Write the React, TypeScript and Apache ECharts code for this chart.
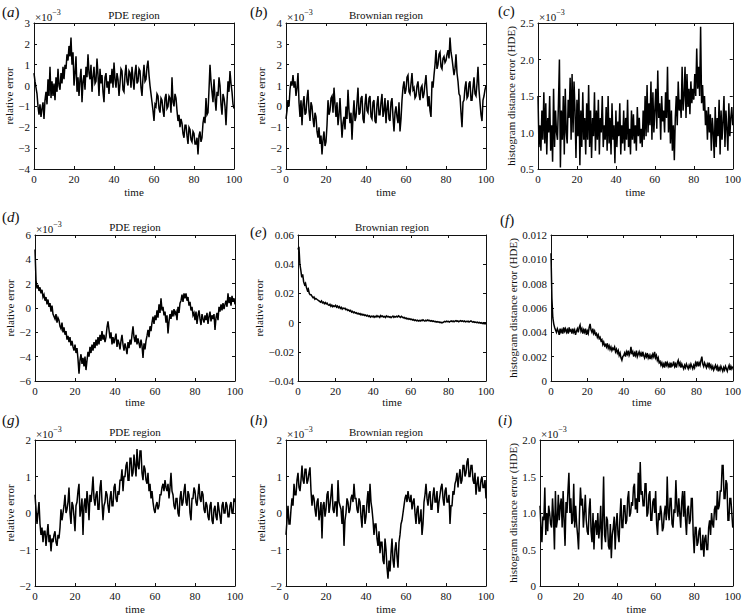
import React, { useEffect, useRef } from "react";
import * as echarts from "echarts";

const TIME_MIN = 0;
const TIME_MAX = 100;
const TIME_TICKS = 20;

// (a) PDE region, relative error, x1e-3
const relErrPdeA = [
  0.6, 0.2, -0.1, -0.4, -1.0, -1.4, -0.9, -1.5, -1.1, -0.8,
  -1.6, -0.7, -0.3, -0.9, 0.3, -0.5, 0.9, -0.6, 0.2, -0.5,
  0.1, -0.7, 0.4, -0.3, 0.8, 0.0, -0.2, 0.6, 0.1, 0.9,
  0.3, 1.0, 0.8, 1.5, 1.2, 1.9, 1.4, 2.3, 1.0, 1.6,
  0.0, 0.6, 1.4, -0.3, 0.4, -0.5, 0.3, 0.8, -0.8, 0.2,
  0.5, -0.2, 0.9, 0.4, 1.5, 0.6, 0.3, 1.0, -0.3, 0.4,
  0.9, 0.1, 0.2, 1.3, 0.5, -0.5, 0.8, 0.1, 0.5, -0.3,
  -0.8, 0.4, 0.6, -0.1, 0.2, -0.4, 0.5, 0.1, 0.8, -0.1,
  1.1, 0.3, -0.1, 0.6, 0.3, -0.5, 0.1, 0.8, 0.7, -0.2,
  -0.3, 0.5, 1.0, 0.2, 0.0, 0.7, 0.6, -0.1, 0.9, 0.3,
  -0.2, 0.6, 1.0, 0.1, 0.2, 0.8, 0.7, -0.1, -0.5, 0.4,
  1.0, 0.2, 0.3, 0.9, 1.2, 0.5, 0.0, -0.4, -0.8, -1.2,
  -1.7, -0.9, -1.0, -0.4, -0.5, -1.1, -1.3, -0.6, -0.7, -1.2,
  -1.5, -0.6, -0.4, -1.1, -1.0, -0.5, -0.6, -1.3, 0.4, -0.8,
  -1.0, -0.4, -0.6, -1.2, -1.7, -1.4, -2.0, -1.6, -1.8, -2.3,
  -2.5, -1.9, -1.9, -2.4, -2.8, -2.0, -2.1, -2.6, -2.7, -2.2,
  -2.3, -2.8, -2.8, -2.5, -3.3, -2.4, -2.2, -2.7, -2.5, -1.8,
  -1.5, -1.8, -0.6, -1.4, -1.3, -0.2, 1.0, 0.2, -0.3, -0.8,
  0.3, -0.6, -1.2, -0.3, -0.5, 0.4, 0.0, -0.9, -1.4, -0.4,
  -0.6, -1.0, -1.9, -0.8, 0.2, -0.3, 0.7, 0.1, -0.3, -0.9,
  -1.1,
];

// (b) Brownian region, relative error, x1e-3
const relErrBrownB = [
  -0.6, -0.2, 0.3, 0.0, 0.8, 1.2, 1.0, 1.5, 0.9, 1.2,
  0.5, 0.9, 1.6, 0.2, -0.5, 0.3, -0.9, 0.1, 0.5, -0.4,
  -0.3, 0.4, 0.8, -0.2, -0.7, 0.2, 0.0, -0.6, -1.0, -0.3,
  -0.5, -1.2, -1.5, -1.0, -1.8, -1.4, -2.3, -1.6, -1.2, -1.9,
  -1.7, -0.9, 0.3, -0.4, -0.2, 0.4, 0.5, -0.3, 0.9, 0.1,
  -0.5, 0.2, -0.9, -0.4, 0.4, -0.6, -1.5, -0.8, -0.5, -1.1,
  0.0, -0.6, 0.8, -0.2, -0.8, -0.3, -1.6, -0.5, 0.3, -0.7,
  -0.5, 0.2, 0.9, -0.4, -0.3, 0.4, 0.5, -0.6, -0.8, 0.1,
  0.6, -0.2, -0.3, 0.4, 0.5, -0.5, -0.6, 0.2, 0.3, -0.7,
  -0.8, 0.1, 0.5, -0.4, -0.4, 0.2, 0.6, -0.5, -0.2, 0.4,
  -0.8, -0.1, 0.3, -0.6, -0.7, 0.2, 0.4, -0.5, -1.2, -0.3,
  0.0, -0.5, -0.8, 0.2, -1.2, -0.6, 0.3, 0.9, 1.2, 0.6,
  0.8, 1.4, 1.5, 0.7, 0.6, 1.1, 1.6, 0.8, 0.9, 0.4,
  0.5, 1.0, 1.2, 0.6, 0.3, 0.9, 1.0, 0.4, 0.6, 1.1,
  1.5, 0.7, 0.0, 0.5, -0.2, -0.5, 1.2, 0.9, 1.5, 2.0,
  2.7, 1.8, 2.0, 2.5, 2.6, 1.9, 1.8, 2.3, 2.4, 2.1,
  2.2, 2.5, 2.7, 2.3, 3.3, 2.6, 2.3, 1.9, 1.5, 1.8,
  2.5, 1.6, 1.2, 0.6, 0.5, -0.3, -1.0, 0.2, 0.3, 0.9,
  1.2, 0.4, 0.5, 1.1, 1.2, 0.3, 0.3, 0.9, 1.4, 0.6,
  0.5, 1.1, 1.9, 0.8, 0.2, -0.4, -0.7, 0.3, 0.5, 0.8,
  1.0,
];

// (c) histogram distance error, x1e-3
const hdeC = [
  1.5, 0.8, 1.1, 0.75, 1.3, 0.9, 1.55, 0.85, 1.4, 0.7,
  1.2, 1.0, 1.5, 0.75, 1.1, 0.6, 1.6, 0.8, 1.3, 1.0,
  0.9, 1.4, 2.0, 0.52, 1.3, 0.9, 1.5, 0.7, 1.6, 1.0,
  0.85, 1.45, 1.2, 1.75, 0.9, 1.8, 1.0, 1.7, 1.3, 0.65,
  1.45, 0.95, 1.6, 0.55, 1.3, 0.8, 1.55, 0.9, 1.2, 0.7,
  1.4, 0.9, 1.65, 0.8, 1.3, 0.65, 1.2, 0.95, 1.55, 0.75,
  1.3, 0.9, 1.45, 0.7, 1.2, 1.0, 1.5, 0.8, 1.1, 0.9,
  1.35, 0.75, 1.5, 0.85, 1.2, 0.7, 1.4, 0.9, 1.1, 0.58,
  1.3, 0.8, 1.15, 0.95, 1.4, 0.7, 1.1, 0.85, 1.3, 0.75,
  1.2, 0.9, 1.45, 0.8, 1.05, 0.7, 1.3, 0.9, 1.25, 0.85,
  1.1, 0.75, 1.35, 0.95, 1.2, 0.85, 1.05, 0.8, 1.3, 0.9,
  1.5, 0.95, 1.65, 1.0, 1.4, 1.1, 1.7, 0.9, 1.55, 1.0,
  1.3, 1.6, 1.05, 1.85, 1.2, 1.4, 0.9, 1.5, 1.15, 1.3,
  1.0, 1.55, 1.2, 1.9, 1.0, 1.45, 0.85, 1.3, 0.75, 1.1,
  0.62, 1.2, 1.5, 1.1, 1.7, 1.3, 1.45, 1.2, 1.9, 1.3,
  1.5, 1.9, 1.2, 1.8, 1.35, 1.6, 1.25, 1.7, 1.4, 1.6,
  1.45, 1.8, 1.5, 2.15, 1.6, 1.9, 1.5, 2.45, 1.4, 1.65,
  1.3, 1.5, 1.1, 1.3, 0.9, 1.35, 1.0, 1.25, 0.75, 1.2,
  1.0, 0.65, 1.35, 0.8, 1.2, 0.95, 1.45, 0.7, 1.3, 0.9,
  1.15, 1.5, 0.8, 1.3, 1.05, 0.75, 1.4, 0.95, 1.2, 1.35,
  1.1,
];

// (d) PDE region, relative error, x1e-3
const relErrPdeD = [
  4.8, 2.3, 1.6, 1.9, 1.4, 1.7, 1.2, 1.5, 0.9, 1.1,
  0.6, 0.9, 0.3, 0.7, 0.1, 0.4, -0.3, 0.2, -0.5, -0.7,
  -0.9, -0.5, -1.2, -0.8, -1.0, -1.5, -1.7, -1.2, -2.0, -1.6,
  -2.2, -1.9, -2.6, -2.3, -2.8, -2.4, -3.1, -2.7, -3.2, -3.5,
  -3.0, -3.7, -3.3, -4.2, -5.4, -4.3, -3.8, -4.6, -4.1, -4.8,
  -4.0, -5.1, -4.3, -3.6, -4.0, -3.2, -3.7, -3.0, -3.5, -2.8,
  -3.3, -2.6, -3.1, -2.4, -3.0, -2.2, -2.7, -1.9, -2.6, -2.2,
  -2.8, -2.4, -1.6, -1.1, -1.8, -2.5, -2.0, -3.0, -2.4, -2.9,
  -2.5, -2.1, -3.2, -2.6, -2.9, -3.4, -2.7, -2.2, -3.0, -3.5,
  -2.9, -3.3, -3.8, -2.8, -3.3, -2.6, -3.0, -2.2, -1.5, -2.4,
  -2.8, -2.2, -3.0, -2.5, -2.9, -3.3, -2.6, -3.1, -4.1, -2.9,
  -3.4, -2.7, -2.3, -1.8, -2.4, -1.5, -1.9, -1.2, -0.7, -1.3,
  -0.6, -1.0, -0.2, -0.8, 0.3, -0.4, 0.8, -0.2, 0.1, -0.6,
  -0.3, -1.2, -0.6, -2.1, -1.1, -0.5, -0.9, -0.2, -0.7, -0.1,
  -0.5, -0.3, -1.0, 0.1, -0.4, 0.4, 0.6, 1.1, 0.5, 1.2,
  0.8, 1.2, 0.6, 0.9, 0.2, 0.5, -0.2, 0.1, -0.6, -0.4,
  -1.0, -0.3, -1.3, -0.6, -0.2, -0.9, -1.4, -0.5, -0.9, -1.2,
  -0.6, -1.0, -0.4, -1.3, -0.7, -0.3, -1.1, -0.6, -0.9, -0.5,
  -1.8, -0.8, -0.4, -1.0, 0.1, -0.3, 0.3, -0.2, 0.4, -0.1,
  0.3, 0.6, 0.1, 1.2, 0.4, 0.9, 0.2, 1.0, 0.5, 0.8,
  0.3,
];

// (e) Brownian region, relative error
const relErrBrownE = [
  0.050, 0.052, 0.040, 0.036, 0.031, 0.033, 0.028, 0.026, 0.027, 0.024,
  0.022, 0.023, 0.020, 0.019, 0.019, 0.018, 0.017, 0.0175, 0.016, 0.0165,
  0.016, 0.0155, 0.015, 0.0145, 0.014, 0.0148, 0.0135, 0.014, 0.013, 0.0138,
  0.0128, 0.0133, 0.0122, 0.0118, 0.0125, 0.0112, 0.012, 0.0108, 0.0115, 0.011,
  0.0118, 0.0106, 0.0113, 0.0102, 0.011, 0.0097, 0.0105, 0.0092, 0.010, 0.0095,
  0.0098, 0.0088, 0.0092, 0.0083, 0.0087, 0.0078, 0.0083, 0.0072, 0.0077, 0.0068,
  0.0072, 0.0065, 0.0068, 0.006, 0.0064, 0.0057, 0.0062, 0.0053, 0.0058, 0.0051,
  0.0055, 0.0048, 0.0052, 0.0045, 0.005, 0.0042, 0.0047, 0.0038, 0.0044, 0.004,
  0.0045, 0.0036, 0.0043, 0.0039, 0.0047, 0.004, 0.0044, 0.0036, 0.0048, 0.0041,
  0.0045, 0.0038, 0.0042, 0.0035, 0.0046, 0.004, 0.0043, 0.0037, 0.0041, 0.0034,
  0.004, 0.0045, 0.0036, 0.0042, 0.0038, 0.0044, 0.0039, 0.0046, 0.0041, 0.0035,
  0.0043, 0.0038, 0.0033, 0.0036, 0.0028, 0.0032, 0.0025, 0.0029, 0.0022, 0.0026,
  0.002, 0.0024, 0.0017, 0.0021, 0.0014, 0.0018, 0.0012, 0.0016, 0.001, 0.0015,
  0.0011, 0.0017, 0.0013, 0.0019, 0.0014, 0.001, 0.0016, 0.0012, 0.0018, 0.0013,
  0.0015, 0.001, 0.0013, 0.0008, 0.0011, 0.0006, 0.0009, 0.0004, 0.0007, 0.0003,
  0.0005, 0.0, 0.0003, -0.0002, 0.0001, 0.0004, 0.0008, 0.0005, 0.001, 0.0006,
  0.0009, 0.0004, 0.0008, 0.0012, 0.0007, 0.0011, 0.0006, 0.001, 0.0013, 0.0008,
  0.0011, 0.0006, 0.001, 0.0014, 0.0009, 0.0012, 0.0007, 0.0011, 0.0005, 0.0009,
  0.0006, 0.001, 0.0004, 0.0008, 0.0012, 0.0007, 0.0003, 0.0006, 0.0001, 0.0004,
  0.0, 0.0003, -0.0002, 0.0001, -0.0004, -0.0001, -0.0006, -0.0002, -0.0008, -0.0005,
  -0.001,
];

// (f) histogram distance error
const hdeF = [
  0.0105, 0.0068, 0.0052, 0.0047, 0.0044, 0.0042, 0.0040, 0.0043, 0.0041, 0.0038,
  0.0043, 0.0040, 0.0042, 0.0039, 0.0044, 0.0041, 0.0043, 0.0040, 0.0042, 0.0039,
  0.0044, 0.0041, 0.0042, 0.0039, 0.0043, 0.0040, 0.0042, 0.0038, 0.0041, 0.0043,
  0.0040, 0.0044, 0.0046, 0.0041, 0.0043, 0.0039, 0.0042, 0.0040, 0.0043, 0.0038,
  0.0041, 0.0039, 0.0044, 0.0047, 0.0042, 0.0040, 0.0043, 0.0039, 0.0041, 0.0038,
  0.0039, 0.0036, 0.0038, 0.0035, 0.0036, 0.0033, 0.0034, 0.0030, 0.0032, 0.0029,
  0.0030, 0.0028, 0.0031, 0.0027, 0.0029, 0.0026, 0.0028, 0.0025, 0.0027, 0.0026,
  0.0028, 0.0024, 0.0026, 0.0023, 0.0025, 0.0021, 0.0023, 0.0019, 0.0017, 0.0020,
  0.0021, 0.0023, 0.0020, 0.0024, 0.0022, 0.0025, 0.0021, 0.0023, 0.0028, 0.0022,
  0.0024, 0.0020, 0.0023, 0.0021, 0.0025, 0.0020, 0.0022, 0.0024, 0.0021, 0.0023,
  0.0020, 0.0024, 0.0021, 0.0019, 0.0022, 0.0020, 0.0023, 0.0019, 0.0021, 0.0018,
  0.0021, 0.0019, 0.0022, 0.0020, 0.0024, 0.0019, 0.0021, 0.0017, 0.0019, 0.0015,
  0.0016, 0.0013, 0.0015, 0.0012, 0.0014, 0.0011, 0.0016, 0.0013, 0.0015, 0.0012,
  0.0014, 0.0011, 0.0015, 0.0012, 0.0013, 0.0016, 0.0012, 0.0014, 0.0011, 0.0015,
  0.0017, 0.0013, 0.0015, 0.0011, 0.0014, 0.0012, 0.0010, 0.0013, 0.0011, 0.0014,
  0.0012, 0.0010, 0.0013, 0.0011, 0.0014, 0.0012, 0.0010, 0.0013, 0.0011, 0.0015,
  0.0013, 0.0016, 0.0012, 0.0015, 0.0013, 0.0017, 0.0020, 0.0014, 0.0012, 0.0015,
  0.0013, 0.0011, 0.0014, 0.0012, 0.0015, 0.0011, 0.0013, 0.0010, 0.0012, 0.0009,
  0.0011, 0.0013, 0.0010, 0.0012, 0.0008, 0.0011, 0.0009, 0.0012, 0.0010, 0.0008,
  0.0011, 0.0009, 0.0012, 0.0010, 0.0008, 0.0011, 0.0013, 0.0009, 0.0012, 0.0010,
  0.0012,
];

// (g) PDE region, relative error, x1e-3
const relErrPdeG = [
  0.5, 0.1, -0.3, 0.0, 0.3, -0.3, -0.6, -0.4, -0.8, -0.5,
  -0.5, -0.9, -0.6, -0.3, -0.8, -0.6, -1.05, -0.7, -0.8, -0.6,
  -0.5, -0.8, -0.9, -0.6, -0.7, -0.4, 0.1, -0.2, 0.0, 0.2,
  0.5, 0.0, 0.1, 0.3, 0.7, 0.0, -0.3, 0.3, 0.2, -0.1,
  -0.5, 0.2, 0.3, 0.6, 0.8, -0.1, 0.1, 0.4, -0.6, 0.2,
  0.4, 0.0, 0.6, 0.3, -0.2, 0.5, 0.3, 0.6, 1.0, 0.4,
  0.2, 0.5, 0.6, 0.1, 0.1, 0.7, 0.9, 0.3, -0.2, 0.2,
  0.3, 0.6, 0.5, 0.2, 0.0, 0.4, 0.6, 0.2, 0.2, 0.7,
  0.8, 0.4, 0.3, 0.6, 0.5, 0.9, 0.9, 1.2, 0.6, 1.0,
  1.0, 1.3, 1.4, 0.9, 0.9, 1.5, 1.5, 1.0, 1.1, 1.6,
  1.3, 1.0, 1.75, 1.3, 1.2, 1.7, 1.7, 1.1, 0.9, 1.3,
  1.2, 0.9, 0.8, 1.1, 0.6, 0.8, 0.4, 0.6, 0.3, 0.1,
  0.0, 0.2, 0.3, 0.1, 0.2, 0.5, 0.5, 0.7, 0.8, 0.6,
  0.9, 0.7, 0.6, 0.8, 0.4, 0.7, 1.1, 0.6, 0.5, 0.2,
  0.1, 0.4, 0.4, 0.0, -0.1, 0.4, 0.6, 0.2, 0.3, 0.6,
  0.8, 0.3, 0.2, 0.6, 0.5, 0.0, -0.2, 0.4, 0.4, 0.7,
  0.6, 0.3, 0.2, 0.5, 0.8, 0.4, 0.3, 0.6, 0.5, 0.1,
  0.0, 0.3, 0.2, -0.1, -0.2, 0.2, 0.3, -0.2, -0.3, 0.1,
  0.2, -0.1, -0.2, 0.3, 0.1, -0.1, -0.3, 0.2, 0.3, 0.0,
  0.0, 0.3, 0.2, -0.1, -0.1, 0.2, 0.3, 0.0, 0.0, 0.4,
  0.3,
];

// (h) Brownian region, relative error, x1e-3
const relErrBrownH = [
  -0.6, -0.2, 0.2, -0.3, -0.3, 0.1, 0.4, 0.2, 0.8, 0.5,
  0.5, 0.9, 1.1, 0.7, 0.6, 0.9, 1.3, 0.9, 0.8, 1.2,
  1.2, 0.8, 0.9, 1.1, 1.25, 0.6, 0.2, 0.5, 0.4, 0.1,
  -0.1, 0.3, 0.4, -0.2, 0.0, 0.3, -0.7, 0.2, 0.3, -0.1,
  0.1, 0.5, 0.6, 0.0, 0.2, 0.5, 0.8, 0.1, 0.0, 0.3,
  0.3, -0.1, 0.9, 0.3, 0.2, 0.1, -0.3, 0.2, -0.9, -0.2,
  0.0, 0.4, 0.3, 0.0, 0.1, 0.4, 0.5, 0.3, 0.8, 0.4,
  0.4, 0.1, 0.0, 0.4, 0.3, -0.1, -0.4, 0.2, 0.2, -0.3,
  -0.1, 0.3, 0.6, 0.0, 0.8, 0.3, 0.1, -0.2, -0.6, -0.3,
  -0.3, -0.7, -0.9, -0.5, -1.1, -0.8, -0.8, -1.3, -1.4, -0.7,
  -1.0, -1.5, -1.8, -1.3, -1.6, -1.1, -0.7, -1.3, -1.5, -1.0,
  -0.8, -1.2, -1.5, -0.8, -0.6, -0.3, -0.2, 0.0, 0.2, 0.4,
  0.5, 0.3, 0.6, 0.4, 0.3, 0.5, 0.1, 0.3, 0.4, 0.0,
  -0.3, 0.1, 0.2, -0.3, -0.2, 0.1, -0.6, -0.3, 0.3, 0.5,
  0.8, 0.4, 0.2, 0.5, 0.6, 0.1, 0.1, 0.5, 0.7, 0.3,
  0.3, 0.6, 0.0, 0.3, 0.5, 0.7, 0.8, 0.4, 0.2, 0.6,
  0.7, 0.3, 0.3, 0.5, -0.3, 0.2, 0.2, 0.6, 0.5, 0.8,
  0.9, 1.1, 0.7, 1.0, 1.2, 0.8, 0.9, 1.3, 1.3, 1.0,
  1.1, 1.4, 1.5, 1.0, 1.0, 1.3, 1.3, 0.9, 0.8, 1.1,
  0.5, 0.8, 1.0, 0.6, 0.6, 0.9, 1.0, 0.7, 0.7, 0.9,
  0.4,
];

// (i) histogram distance error, x1e-3
const hdeI = [
  1.1, 0.8, 0.6, 0.95, 0.9, 1.35, 0.7, 1.0, 0.75, 1.1,
  1.0, 0.85, 0.8, 1.2, 0.95, 0.5, 1.3, 0.8, 0.9, 1.25,
  0.9, 1.1, 1.2, 0.8, 1.3, 0.9, 0.55, 1.15, 1.0, 1.3,
  1.55, 1.0, 1.2, 0.85, 0.9, 1.4, 0.8, 1.1, 0.85, 0.7,
  0.5, 1.0, 1.35, 1.1, 1.2, 0.8, 1.0, 1.25, 0.9, 0.75,
  0.7, 1.05, 1.2, 0.75, 0.6, 1.0, 0.5, 0.85, 0.9, 0.7,
  1.0, 0.65, 0.8, 1.1, 0.5, 0.9, 1.5, 0.7, 0.6, 0.95,
  0.9, 0.55, 0.5, 0.85, 0.38, 0.7, 0.8, 0.95, 0.5, 0.85,
  1.0, 0.7, 0.6, 0.95, 1.2, 0.8, 0.8, 1.1, 1.1, 0.85,
  0.9, 1.2, 1.3, 0.95, 1.0, 1.15, 1.1, 1.35, 1.4, 1.05,
  1.2, 1.0, 1.55, 1.15, 1.7, 1.25, 1.3, 1.1, 1.1, 1.4,
  1.4, 0.95, 1.0, 1.25, 1.3, 0.9, 0.9, 1.15, 1.2, 1.0,
  1.3, 0.85, 0.7, 1.0, 0.9, 1.1, 1.0, 0.75, 0.8, 1.0,
  1.1, 0.9, 1.5, 1.0, 0.9, 1.2, 1.2, 0.85, 0.8, 1.05,
  1.0, 1.45, 1.1, 0.95, 1.2, 1.0, 0.8, 1.15, 1.3, 0.95,
  1.3, 0.9, 0.7, 1.05, 1.1, 0.85, 0.9, 1.2, 1.2, 0.7,
  0.45, 0.8, 0.8, 0.55, 0.6, 0.75, 0.8, 0.5, 0.5, 0.7,
  0.4, 0.65, 0.7, 0.5, 0.5, 0.8, 0.9, 0.7, 1.0, 0.85,
  0.8, 1.05, 1.1, 0.9, 1.3, 1.05, 1.1, 1.3, 1.3, 1.65,
  1.65, 1.2, 1.2, 1.45, 1.4, 0.9, 0.9, 1.2, 1.2, 1.0,
  0.8,
];

// ---- panel layout / styling ----
const FONT = '"Liberation Serif", "Times New Roman", Times, serif';
const INK = "#111";

type Panel = {
  letter: string;
  values: number[];
  title: string;
  yName: string;
  yMin: number;
  yMax: number;
  yStep: number;
  decimals: number;
  scaled: boolean;
  rect: [number, number, number, number];
  yGap: number;
  xGap: number;
  letterAt: [number, number];
};

const PDE = "PDE region";
const BROWN = "Brownian region";
const REL = "relative error";
const HDE = "histogram distance error (HDE)";

const PANELS: Panel[] = [
  { letter: "a", values: relErrPdeA, title: PDE, yName: REL, yMin: -4, yMax: 3, yStep: 1, decimals: 0, scaled: true, rect: [34, 23, 200, 146], yGap: 14, xGap: 17, letterAt: [2, 12] },
  { letter: "b", values: relErrBrownB, title: BROWN, yName: REL, yMin: -3, yMax: 4, yStep: 1, decimals: 0, scaled: true, rect: [286, 23, 200, 146], yGap: 18, xGap: 17, letterAt: [250, 12] },
  { letter: "c", values: hdeC, title: "", yName: HDE, yMin: 0.5, yMax: 2.5, yStep: 0.5, decimals: 1, scaled: true, rect: [538, 23, 198, 146], yGap: 20, xGap: 17, letterAt: [498, 11] },
  { letter: "d", values: relErrPdeD, title: PDE, yName: REL, yMin: -6, yMax: 6, yStep: 2, decimals: 0, scaled: true, rect: [35, 235, 200, 146], yGap: 16, xGap: 15, letterAt: [2, 217] },
  { letter: "e", values: relErrBrownE, title: BROWN, yName: REL, yMin: -0.04, yMax: 0.06, yStep: 0.02, decimals: 2, scaled: false, rect: [298, 235, 188, 146], yGap: 31, xGap: 15, letterAt: [250, 232] },
  { letter: "f", values: hdeF, title: "", yName: HDE, yMin: 0, yMax: 0.012, yStep: 0.002, decimals: 3, scaled: false, rect: [551, 235, 185, 146], yGap: 33, xGap: 15, letterAt: [500, 220] },
  { letter: "g", values: relErrPdeG, title: PDE, yName: REL, yMin: -2, yMax: 2, yStep: 1, decimals: 0, scaled: true, rect: [35, 440, 200, 146], yGap: 14, xGap: 17, letterAt: [2, 420] },
  { letter: "h", values: relErrBrownH, title: BROWN, yName: REL, yMin: -2, yMax: 2, yStep: 1, decimals: 0, scaled: true, rect: [286, 440, 200, 146], yGap: 18, xGap: 17, letterAt: [250, 420] },
  { letter: "i", values: hdeI, title: "", yName: HDE, yMin: 0, yMax: 2, yStep: 0.5, decimals: 1, scaled: true, rect: [540, 440, 196, 146], yGap: 20, xGap: 17, letterAt: [498, 420] },
];

const fmt = (v: number, d: number) => {
  if (Math.abs(v) < 1e-12) return "0";
  return v.toFixed(d).replace("-", "\u2212");
};

function buildOption() {
  const grid: any[] = [];
  const xAxis: any[] = [];
  const yAxis: any[] = [];
  const series: any[] = [];
  const graphic: any[] = [];
  const axisLine = { show: true, onZero: false, lineStyle: { color: INK, width: 1 } };
  const tick = { show: true, inside: true, length: 3, lineStyle: { color: INK, width: 1 } };
  const lbl = { color: INK, fontFamily: FONT, fontSize: 11 };

  PANELS.forEach((p, k) => {
    const [left, top, width, height] = p.rect;
    grid.push({ left, top, width, height, containLabel: false, show: false });
    xAxis.push({
      gridIndex: k, type: "value", min: TIME_MIN, max: TIME_MAX, interval: TIME_TICKS,
      position: "bottom", axisLine, axisTick: tick, splitLine: { show: false },
      axisLabel: { ...lbl, margin: 4 },
      name: "time", nameLocation: "middle", nameGap: p.xGap,
      nameTextStyle: { ...lbl },
    });
    xAxis.push({
      gridIndex: k, type: "value", min: TIME_MIN, max: TIME_MAX, interval: TIME_TICKS,
      position: "top", axisLine, axisTick: tick, splitLine: { show: false },
      axisLabel: { show: false },
    });
    yAxis.push({
      gridIndex: k, type: "value", min: p.yMin, max: p.yMax, interval: p.yStep,
      position: "left", axisLine, axisTick: tick, splitLine: { show: false },
      axisLabel: { ...lbl, margin: 4, formatter: (v: number) => fmt(v, p.decimals) },
      name: p.yName, nameLocation: "middle", nameGap: p.yGap, nameRotate: 90,
      nameTextStyle: { ...lbl },
    });
    yAxis.push({
      gridIndex: k, type: "value", min: p.yMin, max: p.yMax, interval: p.yStep,
      position: "right", axisLine, axisTick: tick, splitLine: { show: false },
      axisLabel: { show: false },
    });
    const n = p.values.length;
    series.push({
      type: "line",
      xAxisIndex: 2 * k,
      yAxisIndex: 2 * k,
      data: p.values.map((v, i) => [TIME_MIN + (i * (TIME_MAX - TIME_MIN)) / (n - 1), v]),
      showSymbol: false,
      symbol: "none",
      lineStyle: { color: "#000", width: 1.5, join: "miter" },
      silent: true,
      z: 1,
    });
    // panel letter
    graphic.push({
      type: "text", x: p.letterAt[0], y: p.letterAt[1],
      style: {
        text: `{p|(}{i|${p.letter}}{p|)}`,
        verticalAlign: "middle",
        rich: {
          p: { fontFamily: FONT, fontSize: 15, fill: INK },
          i: { fontFamily: FONT, fontSize: 15, fontStyle: "italic", fill: INK },
        },
      },
    });
    if (p.title) {
      graphic.push({
        type: "text", x: left + width / 2, y: top - 8,
        style: { text: p.title, fontFamily: FONT, fontSize: 11, fill: INK, align: "center", verticalAlign: "middle" },
      });
    }
    if (p.scaled) {
      graphic.push({
        type: "text", x: left + 1, y: top - 8,
        style: {
          text: "{a|\u00d710}{b|\u22123}",
          verticalAlign: "middle",
          rich: {
            a: { fontFamily: FONT, fontSize: 11, fill: INK, lineHeight: 14, verticalAlign: "bottom" },
            b: { fontFamily: FONT, fontSize: 8, fill: INK, verticalAlign: "top" },
          },
        },
      });
    }
  });

  return { animation: false, backgroundColor: "#fff", grid, xAxis, yAxis, series, graphic };
}

export default function App() {
  const ref = useRef<HTMLDivElement>(null);
  useEffect(() => {
    if (!ref.current) return;
    const chart = echarts.init(ref.current, null, { renderer: "svg" });
    chart.setOption(buildOption() as any);
    return () => chart.dispose();
  }, []);
  return (
    <div
      ref={ref}
      style={{ position: "absolute", left: 0, top: 0, width: 744, height: 616, background: "#fff" }}
    />
  );
}
